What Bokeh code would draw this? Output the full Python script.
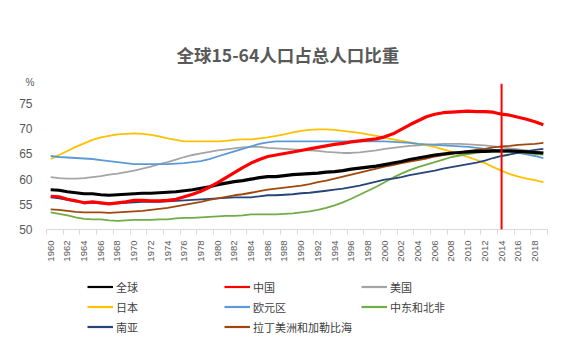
import math
from bokeh.plotting import figure
from bokeh.layouts import column
from bokeh.models import (ColumnDataSource, Legend, LegendItem, Title, Span,
                          FixedTicker, Range1d)
from bokeh.embed import file_html
from bokeh.resources import INLINE

years = list(range(1960, 2020))

world = [57.9, 57.8, 57.5, 57.3, 57.1, 57.1, 56.9, 56.8, 56.9, 57.0,
         57.1, 57.2, 57.2, 57.3, 57.4, 57.5, 57.7, 57.9, 58.2, 58.5,
         58.9, 59.2, 59.5, 59.7, 60.0, 60.3, 60.5, 60.5, 60.7, 60.9,
         61.0, 61.1, 61.2, 61.4, 61.5, 61.7, 62.0, 62.2, 62.4, 62.6,
         62.9, 63.2, 63.5, 63.9, 64.2, 64.5, 64.8, 65.0, 65.2, 65.3,
         65.4, 65.5, 65.5, 65.6, 65.6, 65.6, 65.5, 65.4, 65.3, 65.2]

china = [56.6, 56.5, 56.0, 55.7, 55.3, 55.5, 55.3, 55.1, 55.3, 55.5,
         55.8, 55.8, 55.7, 55.7, 55.8, 56.0, 56.5, 57.0, 57.6, 58.4,
         59.3, 60.3, 61.3, 62.3, 63.2, 63.9, 64.5, 64.8, 65.1, 65.4,
         65.7, 66.0, 66.3, 66.6, 66.9, 67.1, 67.4, 67.6, 67.8, 68.0,
         68.4, 69.0, 69.9, 70.8, 71.6, 72.4, 72.9, 73.2, 73.3, 73.4,
         73.5, 73.4, 73.4, 73.3, 72.9, 72.7, 72.3, 71.9, 71.4, 70.8]

usa = [60.4, 60.2, 60.1, 60.1, 60.2, 60.4, 60.6, 60.9, 61.1, 61.4,
       61.7, 62.1, 62.5, 63.0, 63.4, 63.9, 64.4, 64.8, 65.1, 65.4,
       65.7, 65.9, 66.1, 66.3, 66.4, 66.4, 66.2, 66.1, 66.0, 65.9,
       65.8, 65.7, 65.6, 65.4, 65.3, 65.2, 65.2, 65.3, 65.5, 65.7,
       66.0, 66.2, 66.4, 66.6, 66.7, 66.8, 66.9, 67.0, 67.0, 67.0,
       66.9, 66.8, 66.7, 66.5, 66.3, 66.1, 65.9, 65.7, 65.5, 65.3]

japan = [64.0, 64.8, 65.6, 66.4, 67.1, 67.8, 68.3, 68.6, 68.9, 69.0,
         69.1, 69.0, 68.8, 68.5, 68.1, 67.8, 67.5, 67.5, 67.5, 67.5,
         67.5, 67.6, 67.8, 67.9, 67.9, 68.1, 68.3, 68.6, 68.9, 69.3,
         69.6, 69.8, 69.9, 69.9, 69.8, 69.6, 69.4, 69.2, 68.9, 68.6,
         68.2, 67.9, 67.6, 67.3, 67.0, 66.7, 66.4, 65.9, 65.4, 64.9,
         64.4, 63.8, 63.2, 62.4, 61.7, 61.0, 60.5, 60.1, 59.8, 59.4]

euro = [64.6, 64.4, 64.3, 64.2, 64.1, 64.0, 63.8, 63.6, 63.4, 63.2,
        63.0, 63.0, 63.0, 63.0, 63.0, 63.1, 63.2, 63.4, 63.6, 64.0,
        64.5, 65.0, 65.5, 66.0, 66.5, 67.0, 67.3, 67.5, 67.5, 67.5,
        67.5, 67.5, 67.5, 67.5, 67.5, 67.5, 67.5, 67.5, 67.5, 67.5,
        67.5, 67.4, 67.3, 67.2, 67.0, 66.9, 66.8, 66.7, 66.6, 66.5,
        66.4, 66.2, 66.0, 65.8, 65.6, 65.4, 65.2, 64.9, 64.6, 64.2]

mena = [53.4, 53.1, 52.8, 52.4, 52.1, 52.0, 52.0, 51.8, 51.7, 51.8,
        51.9, 51.9, 51.9, 52.0, 52.0, 52.2, 52.3, 52.3, 52.4, 52.5,
        52.6, 52.7, 52.7, 52.8, 53.0, 53.0, 53.0, 53.0, 53.1, 53.2,
        53.4, 53.6, 53.9, 54.3, 54.8, 55.4, 56.1, 56.9, 57.7, 58.5,
        59.4, 60.3, 61.1, 61.8, 62.4, 62.9, 63.4, 63.9, 64.4, 64.7,
        65.0, 65.2, 65.4, 65.4, 65.4, 65.4, 65.3, 65.2, 65.0, 64.9]

south_asia = [56.4, 56.2, 55.9, 55.6, 55.4, 55.3, 55.2, 55.2, 55.2, 55.3,
              55.4, 55.5, 55.5, 55.5, 55.6, 55.7, 55.8, 55.9, 56.0, 56.1,
              56.2, 56.3, 56.4, 56.4, 56.4, 56.6, 56.8, 56.8, 56.9, 57.0,
              57.2, 57.3, 57.5, 57.7, 57.9, 58.1, 58.4, 58.7, 59.1, 59.5,
              59.9, 60.1, 60.4, 60.8, 61.1, 61.4, 61.7, 62.1, 62.4, 62.7,
              63.0, 63.3, 63.7, 64.2, 64.6, 64.9, 65.2, 65.5, 65.8, 66.0]

latam = [54.0, 53.9, 53.7, 53.5, 53.4, 53.4, 53.4, 53.3, 53.4, 53.5,
         53.6, 53.7, 53.9, 54.1, 54.3, 54.6, 54.9, 55.2, 55.5, 55.9,
         56.2, 56.5, 56.8, 57.0, 57.3, 57.6, 57.9, 58.1, 58.3, 58.5,
         58.7, 59.0, 59.4, 59.7, 60.1, 60.5, 60.9, 61.3, 61.7, 62.1,
         62.5, 62.8, 63.2, 63.5, 63.8, 64.1, 64.5, 64.8, 65.0, 65.3,
         65.6, 65.8, 66.0, 66.3, 66.5, 66.6, 66.8, 66.9, 67.0, 67.2]

series_names = ["全球", "中国", "美国", "日本", "欧元区", "中东和北非", "南亚", "拉丁美洲和加勒比海"]
series_keys = ["world", "china", "usa", "japan", "euro", "mena", "south_asia", "latam"]
series_colors = ["#000000", "#FF0000", "#A5A5A5", "#FFC000", "#5B9BD5", "#70AD47", "#264478", "#9E480E"]
series_widths = [3.2, 3.2, 1.8, 1.8, 1.8, 1.8, 1.8, 1.8]

y_ticks = [50, 55, 60, 65, 70, 75]
x_label_years = list(range(1960, 2019, 2))
marker_year = 2014
title_text = "全球15-64人口占总人口比重"
unit_text = "%"

source = ColumnDataSource(data=dict(year=years, world=world, china=china, usa=usa,
                                    japan=japan, euro=euro, mena=mena,
                                    south_asia=south_asia, latam=latam))

# ---------------- main chart ----------------
p = figure(width=565, height=270, output_backend="svg", toolbar_location=None,
           x_range=Range1d(1959.5, 2019.5), y_range=Range1d(50, 79), title=None)
p.min_border_left = 46
p.min_border_right = 18
p.min_border_top = 83
p.min_border_bottom = 41
p.outline_line_color = None
p.xgrid.grid_line_color = None
p.ygrid.grid_line_color = None
p.background_fill_color = "white"
p.border_fill_color = "white"

p.yaxis.ticker = FixedTicker(ticks=y_ticks)
p.yaxis.axis_line_color = None
p.yaxis.major_tick_line_color = None
p.yaxis.minor_tick_line_color = None
p.yaxis.major_label_text_color = "#595959"
p.yaxis.major_label_text_font = "Liberation Sans"
p.yaxis.major_label_text_font_size = "12px"
p.yaxis.major_label_standoff = 8

p.xaxis.ticker = FixedTicker(ticks=x_label_years,
                             minor_ticks=[y - 0.5 for y in range(1960, 2021, 2)])
p.xaxis.axis_line_color = "#D9D9D9"
p.xaxis.major_tick_line_color = None
p.xaxis.minor_tick_line_color = "#D9D9D9"
p.xaxis.minor_tick_out = 5
p.xaxis.minor_tick_in = 0
p.xaxis.major_label_orientation = math.pi / 2
p.xaxis.major_label_text_color = "#595959"
p.xaxis.major_label_text_font = "Liberation Sans"
p.xaxis.major_label_text_font_size = "9.5px"
p.xaxis.major_label_standoff = 5

draw_order = [2, 3, 4, 5, 6, 7, 0, 1]
for i in draw_order:
    p.line(x="year", y=series_keys[i], source=source,
           line_color=series_colors[i], line_width=series_widths[i])

p.add_layout(Span(location=marker_year, dimension="height",
                  line_color="#FF0000", line_width=2))

pct_title = Title(text=unit_text, align="left", offset=-21, standoff=-8,
                  text_font="Liberation Sans", text_font_size="10px",
                  text_font_style="normal", text_color="#595959")
main_title = Title(text=title_text, align="left", offset=130, standoff=24,
                   text_font="Noto Sans CJK SC", text_font_size="17.5px",
                   text_font_style="bold", text_color="#595959")
p.add_layout(pct_title, "above")
p.add_layout(main_title, "above")

# ---------------- legend strip ----------------
# The series are drawn here again but lie outside this strip's ranges, so
# only their legend samples show.
lg = figure(width=565, height=83, output_backend="svg", toolbar_location=None,
            x_range=Range1d(0, 1), y_range=Range1d(0, 1), title=None,
            x_axis_location=None, y_axis_location=None)
lg.min_border = 0
lg.outline_line_color = None
lg.xgrid.grid_line_color = None
lg.ygrid.grid_line_color = None
lg.background_fill_color = "white"
lg.border_fill_color = "white"

items = []
for i in range(8):
    r = lg.line(x="year", y=series_keys[i], source=source,
                line_color=series_colors[i], line_width=2.2)
    items.append(LegendItem(label=series_names[i], renderers=[r]))

legend = Legend(items=items, location=(41, 18), orientation="horizontal", ncols=3)
legend.glyph_width = 26
legend.glyph_height = 17
legend.label_height = 17
legend.label_width = 105
legend.label_standoff = 3
legend.spacing = 3
legend.padding = 0
legend.margin = 0
legend.border_line_color = None
legend.background_fill_alpha = 0
legend.label_text_font = "Noto Sans CJK SC"
legend.label_text_font_size = "11px"
legend.label_text_color = "#404040"
lg.add_layout(legend, "center")

layout = column(p, lg, spacing=0)
open("out.html", "w").write(file_html(layout, INLINE))
